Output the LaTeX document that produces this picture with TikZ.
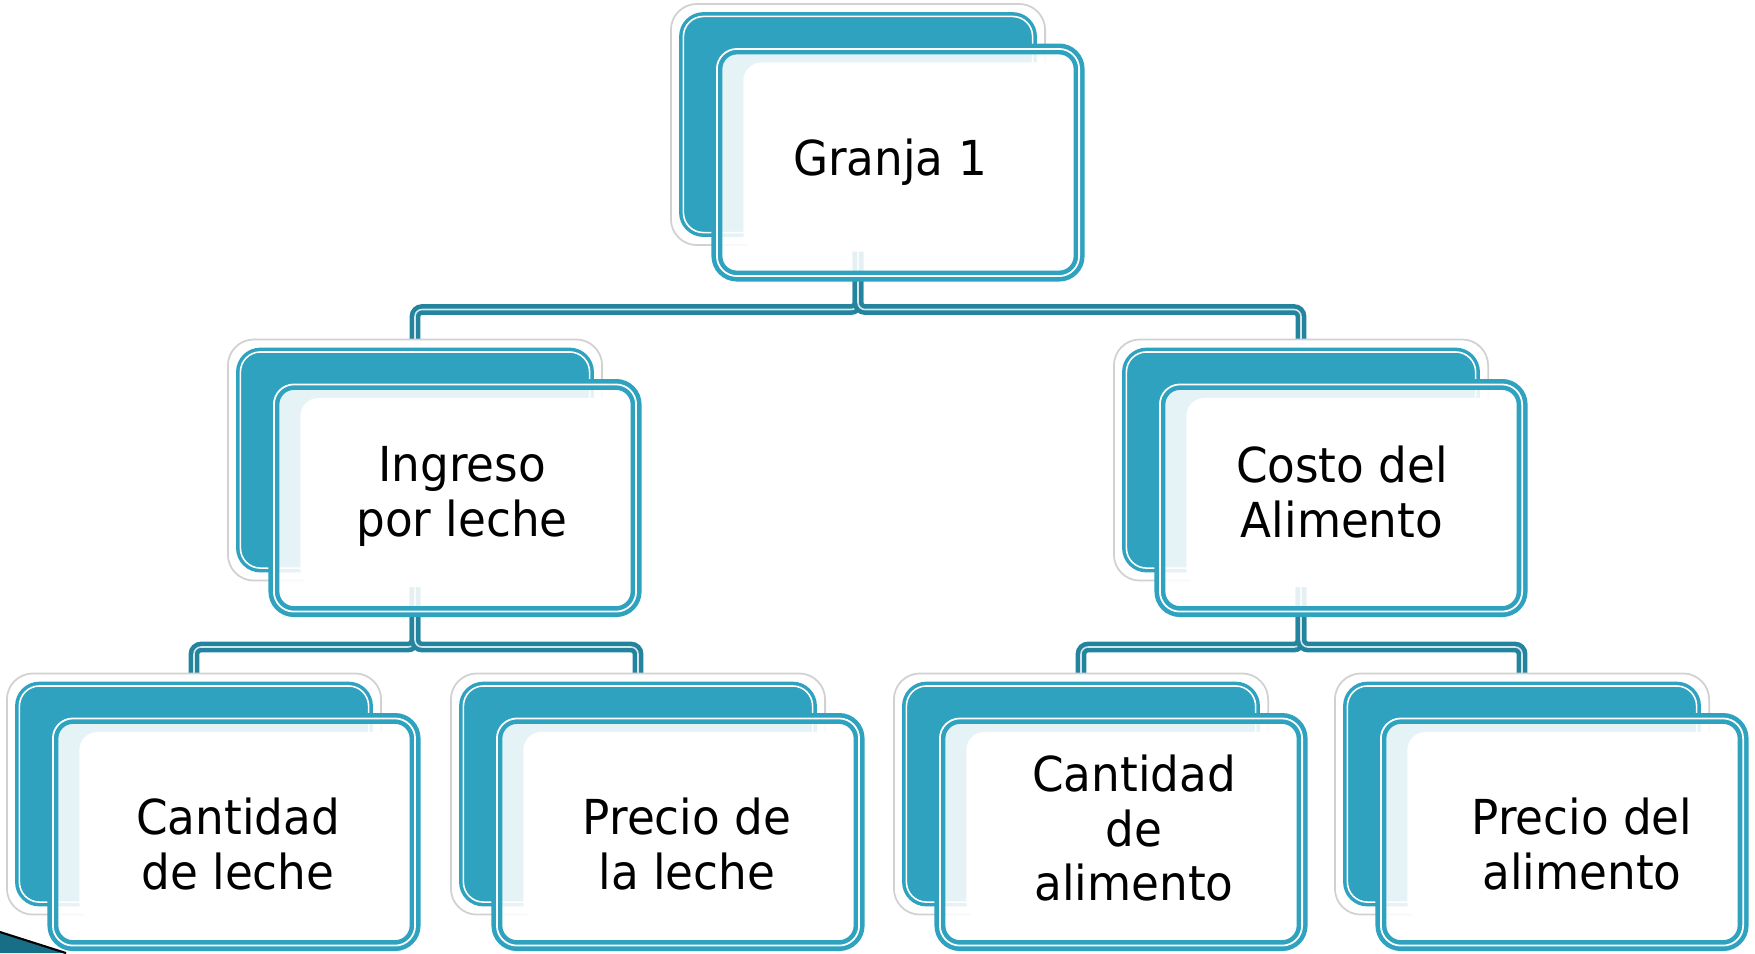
\documentclass[tikz,border=0pt]{standalone}
\usepackage{fontspec}
\setmainfont{DejaVu Sans}[FakeStretch=0.94]
\usetikzlibrary{backgrounds}

\definecolor{cardteal}{RGB}{46,162,191}
\definecolor{linkteal}{RGB}{36,132,158}
\definecolor{wedgeteal}{RGB}{24,110,135}

\newcommand{\cardfont}{\fontsize{13.7}{15.6}\selectfont}
% one card: light halo, teal back box, white front box, then the text
% args: name, x, y (back box centre), text dx, text dy, text
\newcommand{\tarjeta}[6]{%
  \node[halo] (#1H) at (#2,#3) {};
  \node[atras] (#1B) at (#2,#3) {};
  \node[frente] (#1F) at (#2+40,#3+38) {};
  \node[rotulo] (#1) at (#2+40+#4,#3+38+#5) {#6};
}

\begin{document}
\begin{tikzpicture}[x=0.01cm, y=-0.01cm,
    halo/.style={rectangle, rounded corners=0.26cm, minimum width=3.74cm,
      minimum height=2.41cm, fill=white, draw=black!18, line width=0.5pt},
    atras/.style={rectangle, rounded corners=0.2cm, minimum width=3.49cm,
      minimum height=2.16cm, fill=cardteal, draw=cardteal, line width=1pt,
      double=white, double distance=0.45pt},
    frente/.style={rectangle, rounded corners=0.2cm, minimum width=3.62cm,
      minimum height=2.27cm, fill=white, fill opacity=0.88,
      draw=cardteal, line width=1.3pt, double=white, double distance=0.5pt,
      path picture={\fill[white, fill opacity=1, rounded corners=0.18cm]
        ([shift={(0.265cm,-0.135cm)}]path picture bounding box.north west) rectangle
        ([shift={(-0.145cm,0.245cm)}]path picture bounding box.south east);}},
    rotulo/.style={align=center, font=\cardfont, inner sep=0pt,
      execute at begin node=\strut, execute at end node=\strut},
    enlace/.style={draw=linkteal, line width=1.3pt, double=white!80!linkteal,
      double distance=0.45pt, rounded corners=2pt}]

    \useasboundingbox (0,0) rectangle (1755,953);

    % Top card
    \tarjeta{granja}{858}{124.5}{-8}{2.5}{Granja 1}

    % Second level
    \tarjeta{ingreso}{415}{460}{7}{1.6}{Ingreso\\por leche}
    \tarjeta{costo}{1301}{460}{1}{1.6}{Costo del\\Alimento}

    % Third level
    \tarjeta{cantLeche}{194}{794}{4}{20}{Cantidad\\de leche}
    \tarjeta{precioLeche}{638}{794}{9}{20}{Precio de\\la leche}
    \tarjeta{cantAlim}{1081}{794}{13}{4}{Cantidad\\de\\alimento}
    \tarjeta{precioAlim}{1522}{794}{20}{20}{Precio del\\alimento}

    % Connectors behind the cards
    \begin{pgfonlayer}{background}
        \draw[enlace] (granjaB.center) -- ++(0,185) -| (ingresoB.center);
        \draw[enlace] (granjaB.center) -- ++(0,185) -| (costoB.center);
        \draw[enlace] (ingresoB.center) -- ++(0,187) -| (cantLecheB.center);
        \draw[enlace] (ingresoB.center) -- ++(0,187) -| (precioLecheB.center);
        \draw[enlace] (costoB.center) -- ++(0,187) -| (cantAlimB.center);
        \draw[enlace] (costoB.center) -- ++(0,187) -| (precioAlimB.center);
    \end{pgfonlayer}

    % Corner wedge
    \fill[wedgeteal] (0,932) -- (66,953) -- (0,953) -- cycle;
    \draw[black, line width=0.6pt] (0,932) -- (66,953);

\end{tikzpicture}
\end{document}
